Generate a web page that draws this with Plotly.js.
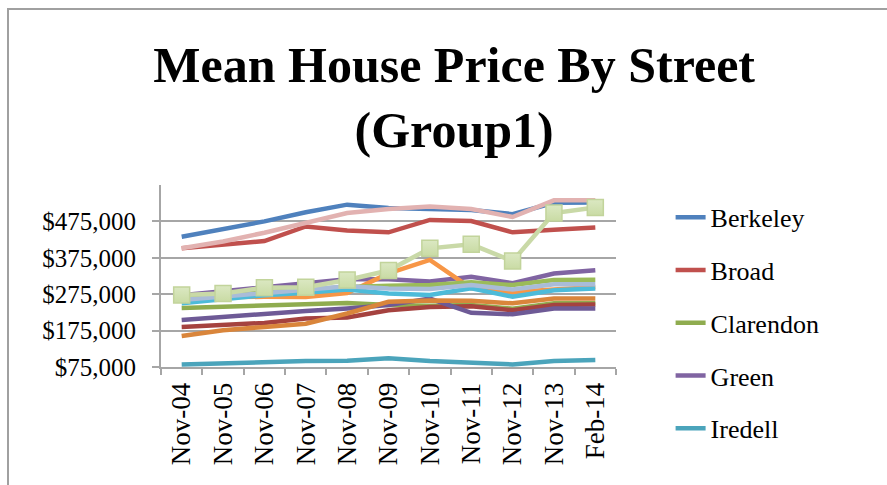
<!DOCTYPE html>
<html>
<head>
<meta charset="utf-8">
<script src="https://cdn.plot.ly/plotly-3.0.1.min.js"></script>
<style>
  html, body { margin: 0; padding: 0; background: #fff; }
  #frame { position: absolute; left: 7px; top: 8px; width: 900px; height: 500px;
           border-left: 2px solid #a0a0a0; border-top: 2px solid #a0a0a0; pointer-events: none; }
  #chart { position: absolute; left: 0; top: 0; width: 887px; height: 485px; }
</style>
</head>
<body>
<div id="chart"></div>
<div id="frame"></div>
<script>
const categories = ['Nov-04','Nov-05','Nov-06','Nov-07','Nov-08','Nov-09','Nov-10','Nov-11','Nov-12','Nov-13','Feb-14'];
const yTicks = [75000, 175000, 275000, 375000, 475000];
const yTickLabels = ['$75,000', '$175,000', '$275,000', '$375,000', '$475,000'];

const berkeley  = [433000, 453000, 475000, 500000, 521000, 512000, 510000, 506000, 495000, 526000, 527000];
const broad     = [401000, 412000, 421000, 461000, 450000, 445000, 479000, 476000, 445000, 452000, 458000];
const clarendon = [237000, 240000, 243000, 246000, 251000, 245000, 243000, 245000, 235000, 250000, 250000];
const green     = [272000, 283000, 297000, 305000, 316000, 316000, 310000, 323000, 305000, 332000, 341000];
const iredell   = [82000, 86000, 89000, 91500, 92500, 99000, 91500, 86000, 82000, 91500, 94000];
const series6   = [265000, 268000, 268000, 267000, 278000, 332000, 369000, 291000, 281000, 288000, 295000];
const series7   = [265000, 272000, 280000, 287000, 295000, 298000, 300000, 308000, 300000, 314000, 315000];
const series8   = [185000, 190000, 196000, 208000, 211000, 231000, 240000, 242000, 231000, 245000, 247000];
const series9   = [204000, 213000, 222000, 229000, 236000, 245000, 263000, 224000, 220000, 236000, 236000];
const series10  = [250000, 261000, 272000, 279000, 288000, 277000, 273000, 291000, 268000, 286000, 291000];
const series11  = [160000, 176000, 185000, 194000, 222000, 254000, 258000, 257000, 250000, 263000, 263000];
const series12  = [259000, 268000, 279000, 286000, 297000, 291000, 289000, 300000, 288000, 302000, 302000];
const series13  = [401000, 420000, 444000, 470000, 498000, 509000, 516000, 509000, 487000, 533000, 533000];
const series14  = [273000, 277000, 293000, 294000, 314000, 340000, 401000, 412000, 366000, 498000, 513000];

const FONT = 'Liberation Serif, Times New Roman, serif';
const LW = 4.5;

function line(name, y, color, inLegend) {
  return {
    type: 'scatter', mode: 'lines', name: name, x: categories, y: y,
    line: { color: color, width: LW },
    showlegend: !!inLegend, legendgroup: name, hoverinfo: 'skip'
  };
}

const traces = [
  line('Berkeley', berkeley, '#4f81bd', true),
  line('Broad', broad, '#c0504d', true),
  line('Clarendon', clarendon, '#8fac4f', true),
  line('Green', green, '#8064a2', true),
  line('Iredell', iredell, '#4ba4bb', true),
  line('Series 6', series6, '#f79646'),
  line('Series 7', series7, '#9bbb59'),
  line('Series 8', series8, '#a5423f'),
  line('Series 9', series9, '#6e5a96'),
  line('Series 10', series10, '#4dbbd9'),
  line('Series 11', series11, '#d9853b'),
  line('Series 12', series12, '#a9bcd8'),
  line('Series 13', series13, '#e2b2b1'),
  {
    type: 'scatter', mode: 'lines+markers', name: 'Series 14', x: categories, y: series14,
    line: { color: '#c9d9a7', width: LW },
    marker: { symbol: 'square', size: 16, color: '#dbe8c2',
              line: { color: '#c2d49b', width: 1.5 },
              gradient: { type: 'vertical', color: '#c9dba4' } },
    showlegend: false, hoverinfo: 'skip'
  }
];

const layout = {
  width: 887, height: 485, autosize: false,
  paper_bgcolor: '#ffffff', plot_bgcolor: '#ffffff',
  margin: { l: 161, r: 271, t: 185, b: 118, pad: 0 },
  font: { family: FONT, color: '#000000', size: 22 },
  title: {
    text: '<b>Mean House Price By Street<br>(Group1)</b>',
    font: { family: FONT, size: 50, color: '#000000' },
    x: 0.512, xref: 'container', xanchor: 'center',
    y: 0.83, yref: 'container', yanchor: 'middle'
  },
  xaxis: {
    type: 'category', range: [-0.5, 10.5],
    showline: true, linecolor: '#a6a6a6', linewidth: 2,
    ticks: 'outside', ticklen: 6, tickcolor: '#a6a6a6', tickwidth: 2,
    tickson: 'boundaries', showgrid: false, zeroline: false,
    tickangle: -90, tickfont: { family: FONT, size: 27 }, ticklabelstandoff: 3
  },
  yaxis: {
    range: [75000, 575000], tickmode: 'array', tickvals: yTicks, ticktext: yTickLabels,
    showline: true, linecolor: '#a6a6a6', linewidth: 2,
    ticks: 'outside', ticklen: 7, tickcolor: '#a6a6a6', tickwidth: 2,
    showgrid: true, gridcolor: '#a6a6a6', gridwidth: 2, zeroline: false,
    tickfont: { family: FONT, size: 25 }, ticklabelstandoff: 11
  },
  legend: {
    x: 1.12, xanchor: 'left', y: 0.952, yanchor: 'top',
    font: { family: FONT, size: 26 }, tracegroupgap: 16,
    bgcolor: 'rgba(0,0,0,0)', itemwidth: 30, maxheight: 320
  },
  showlegend: true
};

Plotly.newPlot('chart', traces, layout, { staticPlot: true, displayModeBar: false });
</script>
</body>
</html>
